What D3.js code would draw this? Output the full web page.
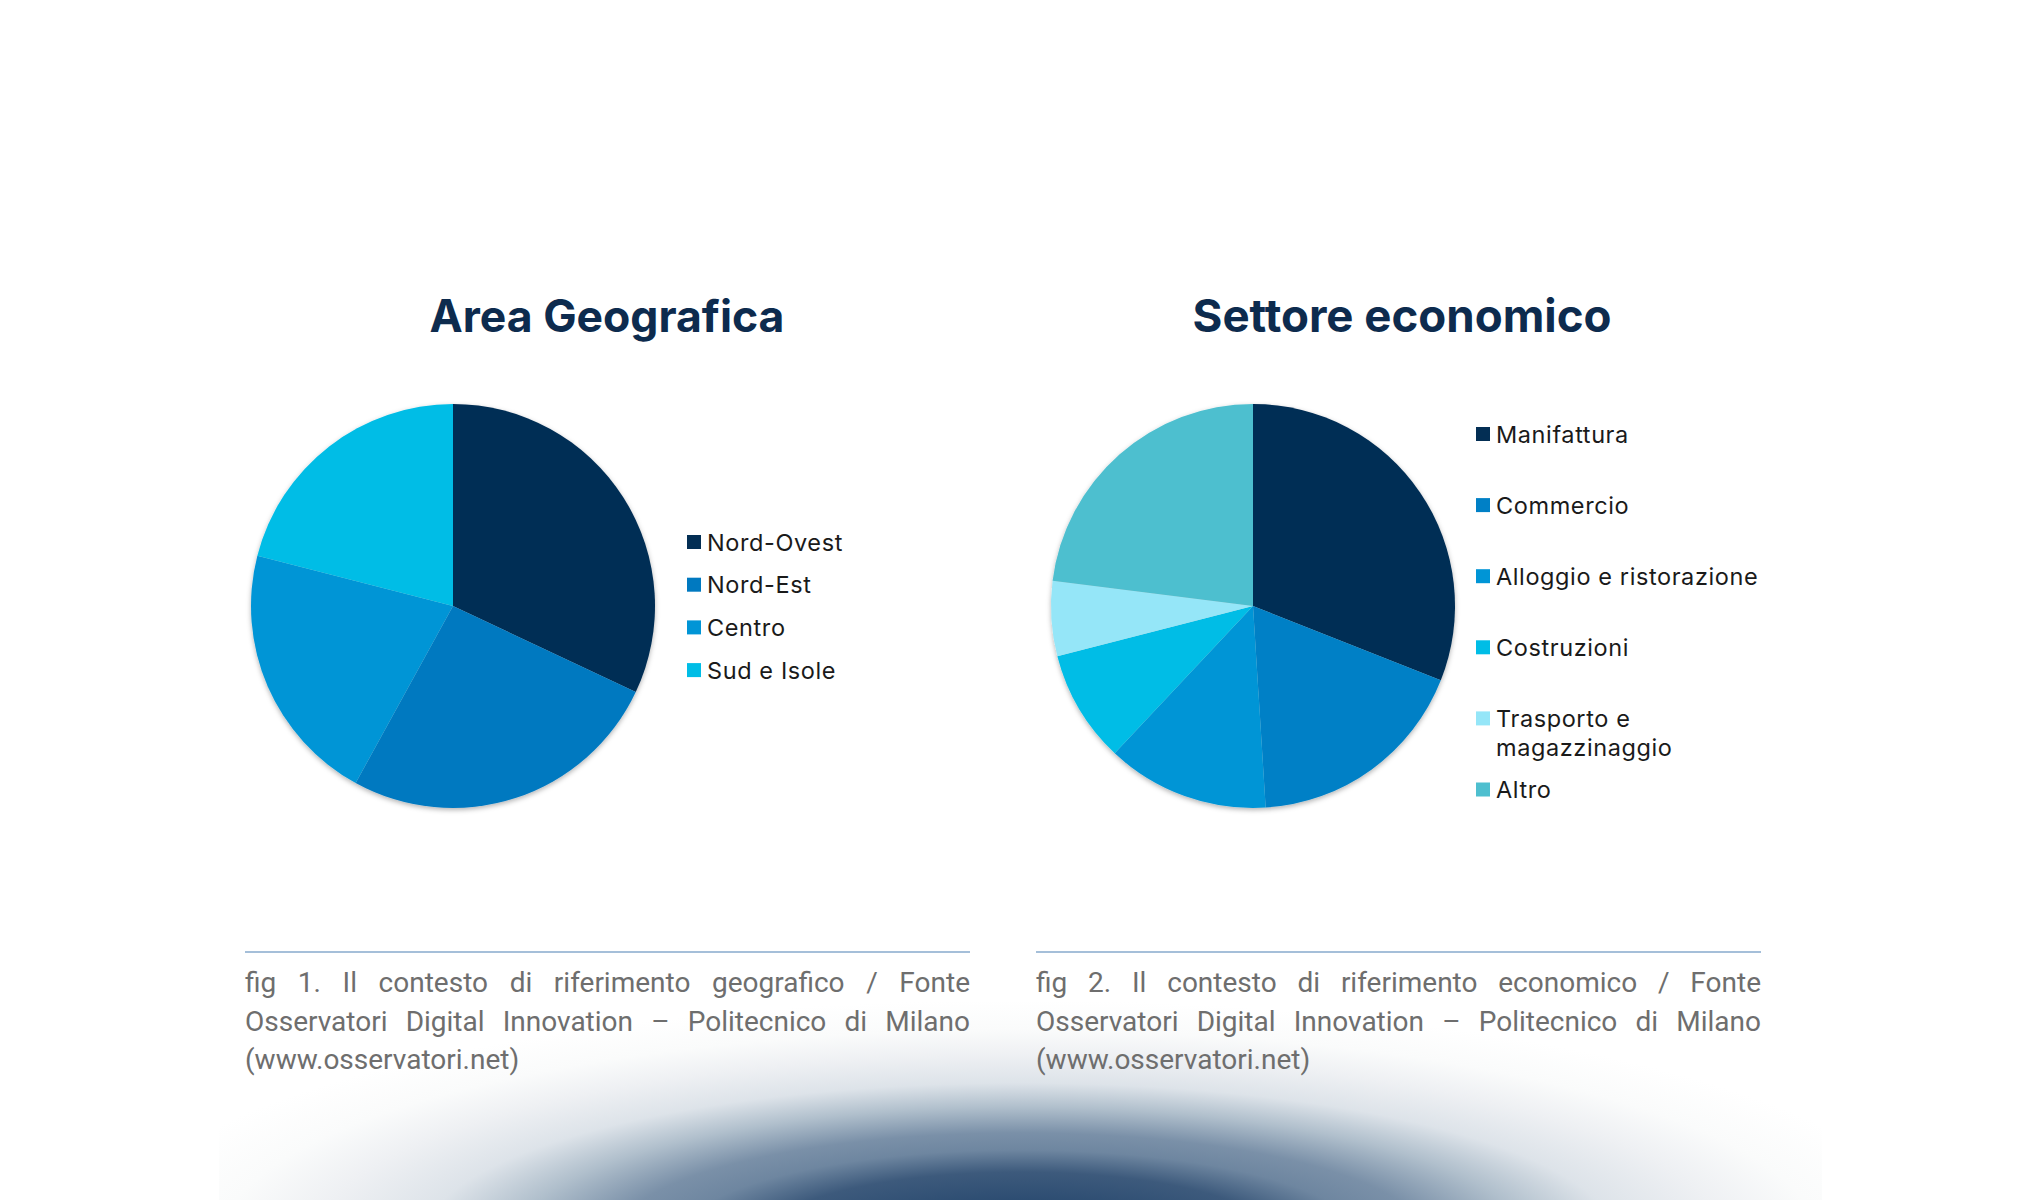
<!DOCTYPE html>
<html>
<head>
<meta charset="utf-8">
<script src="https://cdn.jsdelivr.net/npm/d3@7"></script>
<style>
  html, body { margin: 0; padding: 0; background: #fff; }
  svg { display: block; }
</style>
</head>
<body>
<div id="chart"></div>
<script>
// --- data (percent shares) ---
const geoTitle = "Area Geografica";
const geoCategories = ["Nord-Ovest", "Nord-Est", "Centro", "Sud e Isole"];
const geoValues = [32, 26, 21, 21];
const geoColors = ["#032e54", "#0079c0", "#0095d6", "#00bde6"];

const sectorTitle = "Settore economico";
const sectorCategories = ["Manifattura", "Commercio", "Alloggio e ristorazione", "Costruzioni", "Trasporto e magazzinaggio", "Altro"];
const sectorLegendLines = [["Manifattura"], ["Commercio"], ["Alloggio e ristorazione"], ["Costruzioni"], ["Trasporto e", "magazzinaggio"], ["Altro"]];
const sectorValues = [31, 18, 13, 9, 6, 23];
const sectorColors = ["#032e54", "#0080c6", "#0095d6", "#00bde6", "#95e6f8", "#4ebfcf"];

const geoCaption = [
  "fig 1. Il contesto di riferimento geografico / Fonte",
  "Osservatori Digital Innovation – Politecnico di Milano",
  "(www.osservatori.net)"
];
const sectorCaption = [
  "fig 2. Il contesto di riferimento economico / Fonte",
  "Osservatori Digital Innovation – Politecnico di Milano",
  "(www.osservatori.net)"
];

const width = 2040, height = 1200;
const titleFont = "Inter, 'Open Sans', sans-serif";
const legendFont = "Inter, 'DejaVu Sans', sans-serif";
const captionFont = "Roboto, 'Noto Sans', sans-serif";

const svg = d3.select("#chart").append("svg")
  .attr("width", width)
  .attr("height", height);

const defs = svg.append("defs");

// soft shadow round the pies
defs.append("filter")
  .attr("id", "pieShadow")
  .attr("x", "-10%").attr("y", "-10%")
  .attr("width", "120%").attr("height", "120%")
  .append("feDropShadow")
  .attr("dx", 0).attr("dy", 2)
  .attr("stdDeviation", 2.5)
  .attr("flood-color", "#000")
  .attr("flood-opacity", 0.3);

// dark glow at the bottom of the page
const bg = defs.append("radialGradient")
  .attr("id", "bottomGlow")
  .attr("gradientUnits", "userSpaceOnUse")
  .attr("cx", 1020).attr("cy", 1240).attr("r", 240)
  .attr("gradientTransform", "translate(1020 1240) scale(3.8 1) translate(-1020 -1240)");
[
  [0, "#26456c"], [0.167, "#2d4d72"], [0.283, "#3d5a7c"], [0.375, "#6e86a0"],
  [0.446, "#7a90a8"], [0.554, "#b0bfcc"], [0.654, "#dde3e9"],
  [0.77, "#eef0f3"], [0.875, "#fafbfb"], [1, "#ffffff"]
].forEach(([o, c]) => bg.append("stop").attr("offset", o).attr("stop-color", c));

svg.append("rect")
  .attr("x", 219).attr("y", 960)
  .attr("width", 1603).attr("height", 240)
  .attr("fill", "url(#bottomGlow)");

// fit a text element to a given width by changing its font size
function fitWidth(textSel, target) {
  const fs = parseFloat(textSel.attr("font-size"));
  const w = textSel.node().getComputedTextLength();
  textSel.attr("font-size", (fs * target / w).toFixed(2));
}

function drawPanel(opts) {
  const g = svg.append("g");

  const title = g.append("text")
    .attr("x", opts.titleX)
    .attr("y", 332)
    .attr("text-anchor", "middle")
    .attr("font-family", titleFont)
    .attr("font-weight", 700)
    .attr("font-size", 40)
    .attr("fill", "#0d2b4e")
    .text(opts.title);
  fitWidth(title, opts.titleWidth);

  const pie = d3.pie().sort(null).value(d => d.value);
  const arc = d3.arc().innerRadius(0).outerRadius(opts.radius);
  const color = d3.scaleOrdinal().domain(opts.categories).range(opts.colors);
  const data = opts.categories.map((c, i) => ({ name: c, value: opts.values[i] }));

  g.append("g")
    .attr("transform", `translate(${opts.cx},${opts.cy})`)
    .attr("filter", "url(#pieShadow)")
    .selectAll("path").data(pie(data)).enter().append("path")
    .attr("d", arc)
    .attr("fill", d => color(d.data.name));

  const legend = g.append("g");
  opts.categories.forEach((c, i) => {
    const y = opts.legendY + i * opts.legendStep;
    legend.append("rect")
      .attr("x", opts.legendX)
      .attr("y", y - 7)
      .attr("width", 14)
      .attr("height", 14)
      .attr("fill", color(c));
    const t = legend.append("text")
      .attr("x", opts.legendX + 20)
      .attr("y", y + 8.5)
      .attr("font-family", legendFont)
      .attr("font-size", opts.legendFontSize)
      .attr("letter-spacing", 0.6)
      .attr("fill", "#1a1a1a");
    opts.legendLines[i].forEach((line, li) => {
      t.append("tspan")
        .attr("x", opts.legendX + 20)
        .attr("dy", li === 0 ? 0 : 29)
        .text(line);
    });
  });

  // caption: rule and justified text
  g.append("line")
    .attr("x1", opts.capX0).attr("x2", opts.capX1)
    .attr("y1", 952).attr("y2", 952)
    .attr("stroke", "#a5bfd9")
    .attr("stroke-width", 2);

  opts.caption.forEach((line, li) => {
    const y = 992 + li * 38.5;
    const words = line.split(" ");
    if (li === opts.caption.length - 1) {
      g.append("text")
        .attr("x", opts.capX0).attr("y", y)
        .attr("font-family", captionFont)
        .attr("font-size", 28)
        .attr("fill", "#6e6e6e")
        .text(line);
      return;
    }
    const texts = words.map(w => g.append("text")
      .attr("y", y)
      .attr("font-family", captionFont)
      .attr("font-size", 28)
      .attr("fill", "#6e6e6e")
      .text(w));
    const widths = texts.map(t => t.node().getComputedTextLength());
    const gap = (opts.capX1 - opts.capX0 - d3.sum(widths)) / (words.length - 1);
    let x = opts.capX0;
    texts.forEach((t, i) => {
      t.attr("x", x);
      x += widths[i] + gap;
    });
  });
}

drawPanel({
  title: geoTitle, titleX: 607, titleWidth: 355,
  categories: geoCategories, values: geoValues, colors: geoColors,
  legendLines: geoCategories.map(c => [c]),
  cx: 453, cy: 606, radius: 202,
  legendX: 687, legendY: 542, legendStep: 42.7, legendFontSize: 23.5,
  caption: geoCaption, capX0: 245, capX1: 970
});

drawPanel({
  title: sectorTitle, titleX: 1402, titleWidth: 419,
  categories: sectorCategories, values: sectorValues, colors: sectorColors,
  legendLines: sectorLegendLines,
  cx: 1253, cy: 606, radius: 202,
  legendX: 1476, legendY: 434, legendStep: 71.1, legendFontSize: 23.5,
  caption: sectorCaption, capX0: 1036, capX1: 1761
});
</script>
</body>
</html>
